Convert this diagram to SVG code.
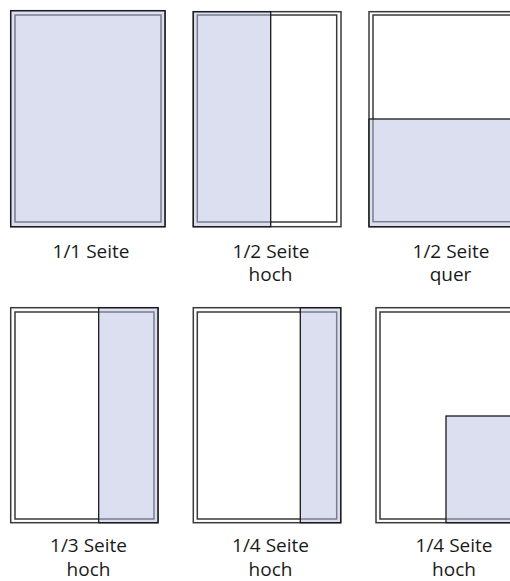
<svg xmlns="http://www.w3.org/2000/svg" width="510" height="581" viewBox="0 0 510 581">
<style>
.frame{fill:none;stroke:#3a3a3a;stroke-width:1.5}
.fill{fill:#b9bfdf;fill-opacity:0.5;stroke:#1a1a1a;stroke-width:1.3}
.lbl{font-family:"Open Sans","Noto Sans",sans-serif;font-size:19px;fill:#1a1a1a;text-anchor:middle}
</style>
<rect width="510" height="581" fill="#fff"/>
<g id="p1">
<rect class="frame" x="10.7" y="10.7" width="154.3" height="216"/>
<rect class="frame" x="15" y="15" width="146" height="207"/>
<rect class="fill" x="10.7" y="10.7" width="154.3" height="216"/>
<text class="lbl" x="91" y="257.5">1/1 Seite</text>
</g>
<g id="p2">
<rect class="frame" x="193.3" y="11.7" width="147.7" height="215"/>
<rect class="frame" x="197.3" y="15" width="139.4" height="207"/>
<rect class="fill" x="193.3" y="11.7" width="77.4" height="215"/>
<text class="lbl" x="271" y="257.5">1/2 Seite<tspan x="270.5" dy="23.5">hoch</tspan></text>
</g>
<g id="p3">
<rect class="frame" x="369" y="11.7" width="160" height="215"/>
<rect class="frame" x="373" y="15" width="150" height="206.7"/>
<rect class="fill" x="369" y="119" width="160" height="107.7"/>
<text class="lbl" x="451" y="257.5">1/2 Seite<tspan x="450.5" dy="23.5">quer</tspan></text>
</g>
<g id="p4">
<rect class="frame" x="10.7" y="307.7" width="147.3" height="215"/>
<rect class="frame" x="15" y="312" width="139" height="207"/>
<rect class="fill" x="98.7" y="307.7" width="59.3" height="215"/>
<text class="lbl" x="88.5" y="552">1/3 Seite<tspan x="88.5" dy="23.5">hoch</tspan></text>
</g>
<g id="p5">
<rect class="frame" x="193.3" y="307.7" width="147.4" height="215"/>
<rect class="frame" x="197.3" y="312" width="139.4" height="207"/>
<rect class="fill" x="300.3" y="307.7" width="40.4" height="215"/>
<text class="lbl" x="270.5" y="552">1/4 Seite<tspan x="270.5" dy="23.5">hoch</tspan></text>
</g>
<g id="p6">
<rect class="frame" x="376" y="307.7" width="160" height="215"/>
<rect class="frame" x="380" y="312" width="150" height="207"/>
<rect class="fill" x="446" y="416" width="90" height="106.7"/>
<text class="lbl" x="454" y="552">1/4 Seite<tspan x="454" dy="23.5">hoch</tspan></text>
</g>
<g id="connectors"/>
</svg>
